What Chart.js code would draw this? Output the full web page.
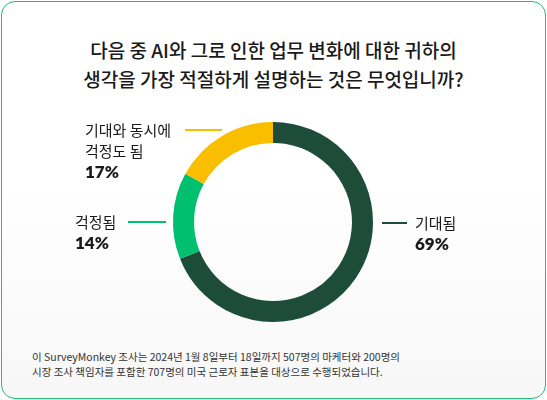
<!DOCTYPE html>
<html><head><meta charset="utf-8">
<script src="https://cdn.jsdelivr.net/npm/chart.js@4"></script>
<style>
html,body{margin:0;padding:0;background:#fff;}
#card{position:absolute;left:1px;top:1px;width:543px;height:396px;border:1.5px solid #1fc06f;border-radius:14px;background:linear-gradient(#fff 0%,#fff 45%,#f7f7f7 100%);overflow:hidden;font-family:"Noto Sans CJK KR",sans-serif;}
#title{position:absolute;left:0;width:100%;top:33px;text-align:center;font-size:19px;line-height:29px;color:#1a1a1a;font-weight:500;}
#note{position:absolute;left:30px;top:347px;font-size:10.5px;line-height:15px;color:#333;}
canvas{position:absolute;left:0;top:0;}
</style></head><body>
<div id="card">
<div id="title">다음 중 AI와 그로 인한 업무 변화에 대한 귀하의<br>생각을 가장 적절하게 설명하는 것은 무엇입니까?</div>
<div id="note">이 SurveyMonkey 조사는 2024년 1월 8일부터 18일까지 507명의 마케터와 200명의<br>시장 조사 책임자를 포함한 707명의 미국 근로자 표본을 대상으로 수행되었습니다.</div>
</div>
<canvas id="c" width="547" height="400"></canvas>
<script>
const categories=["기대됨","걱정됨","기대와 동시에 걱정도 됨"];
const values=[69,14,17];
const colors=["#1d4d38","#00bf6f","#f9be00"];
const labelPlugin={id:"lbl",afterDraw(chart){
 const ctx=chart.ctx;const a=chart.getDatasetMeta(0).data[0];const cx=a.x,cy=a.y;
 const f="Noto Sans CJK KR, sans-serif";
 function line(x1,x2,y,c){ctx.strokeStyle=c;ctx.lineWidth=2;ctx.beginPath();ctx.moveTo(x1,y);ctx.lineTo(x2,y);ctx.stroke();}
 function txt(lines,pct,x,y){ctx.fillStyle="#1a1a1a";ctx.textBaseline="middle";ctx.textAlign="left";
  ctx.font="400 15px "+f;lines.forEach((l,i)=>ctx.fillText(l,x,y+i*21));
  ctx.font="800 17px Lato, sans-serif";ctx.fillText(pct,x,y+lines.length*21+1);}
 line(cx+109,cx+134,cy+1,colors[0]);txt([categories[0]],values[0]+"%",cx+142,cy+1);
 line(cx-145,cx-107,cy,colors[1]);txt([categories[1]],values[1]+"%",cx-198,cy);
 line(cx-88,cx-51,cy-92,colors[2]);txt(["기대와 동시에","걱정도 됨"],values[2]+"%",cx-188,cy-92);
}};
new Chart(document.getElementById("c"),{type:"doughnut",
 data:{labels:categories,datasets:[{data:values,backgroundColor:colors,borderWidth:0}]},
 options:{responsive:false,animation:false,cutout:"79%",
  layout:{padding:{left:173,right:174,top:122,bottom:78}},
  plugins:{legend:{display:false},tooltip:{enabled:false}}},
 plugins:[labelPlugin]});
</script></body></html>
